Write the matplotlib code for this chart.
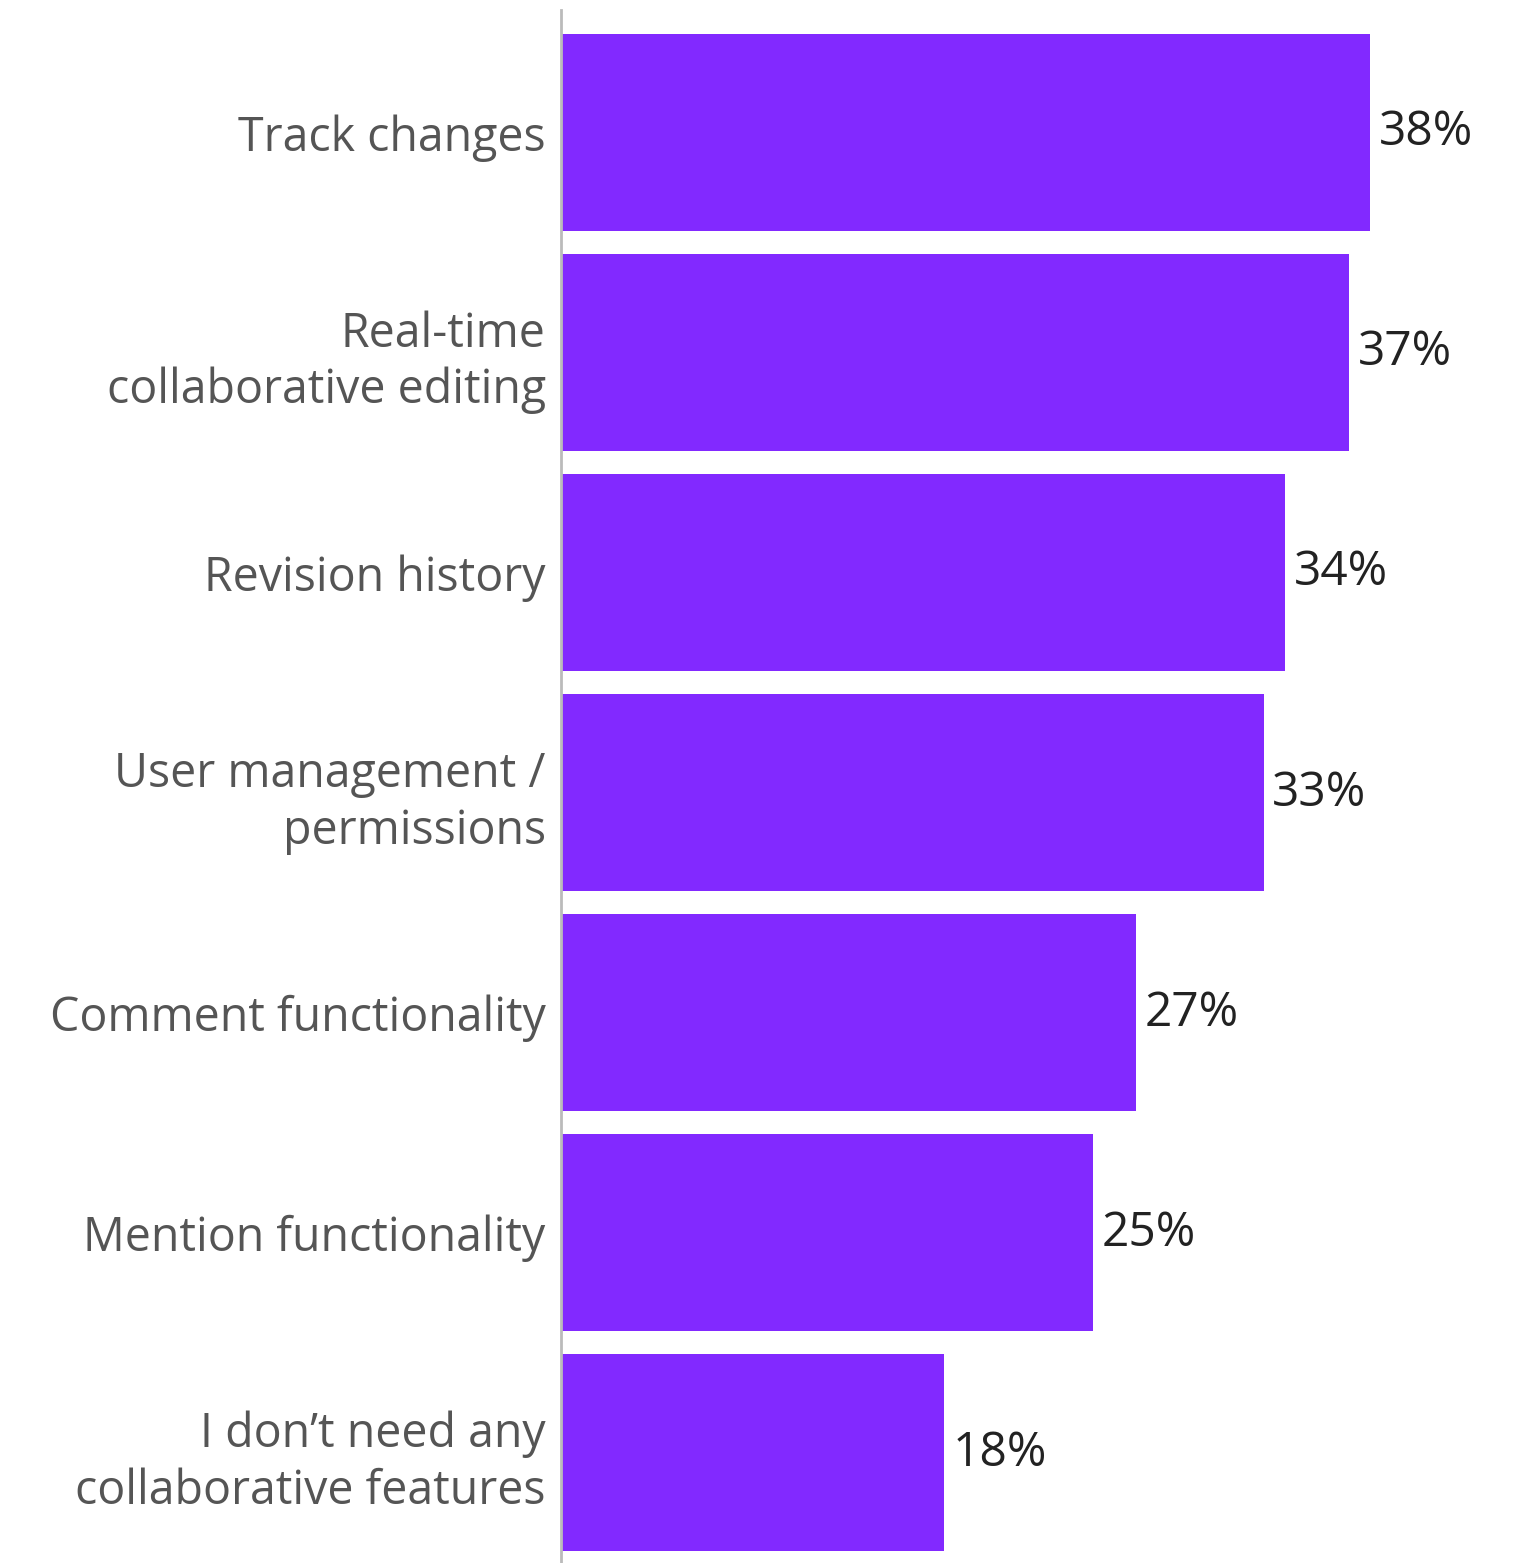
import matplotlib
matplotlib.use("Agg")
import matplotlib.pyplot as plt

# dados
categories = [
    "Track changes",
    "Real-time\ncollaborative editing",
    "Revision history",
    "User management /\npermissions",
    "Comment functionality",
    "Mention functionality",
    "I don\u2019t need any\ncollaborative features",
]
values = [38, 37, 34, 33, 27, 25, 18]
value_labels = ["38%", "37%", "34%", "33%", "27%", "25%", "18%"]

PURPLE = "#8229FF"
LABEL = "#555555"
VALUE = "#222222"

plt.rcParams["font.family"] = ["Open Sans", "DejaVu Sans"]

fig = plt.figure(figsize=(15.27, 15.63), dpi=100)
ax = fig.add_axes([561 / 1527, 0.0, 1 - 561 / 1527 - 0.005, 1 - 10 / 1563])

y = list(range(len(categories)))
ax.barh(y, values, height=0.895, color=PURPLE, edgecolor="none", zorder=2)

ax.set_xlim(0, 45)
ax.set_ylim(6.5, -0.557)

ax.set_yticks(y)
ax.set_yticklabels(categories, fontsize=33.5, color=LABEL, linespacing=1.24,
                   ha="right")
ax.tick_params(axis="y", length=0, pad=11)
ax.set_xticks([])

for s in ["top", "right", "bottom"]:
    ax.spines[s].set_visible(False)
ax.spines["left"].set_color("#BBBBBB")
ax.spines["left"].set_linewidth(2)

for yi, v, lab in zip(y, values, value_labels):
    ax.text(v + 0.4, yi, lab, va="center", ha="left", fontsize=34.5,
            color=VALUE)

fig.savefig("out.png", dpi=100, facecolor="white")
